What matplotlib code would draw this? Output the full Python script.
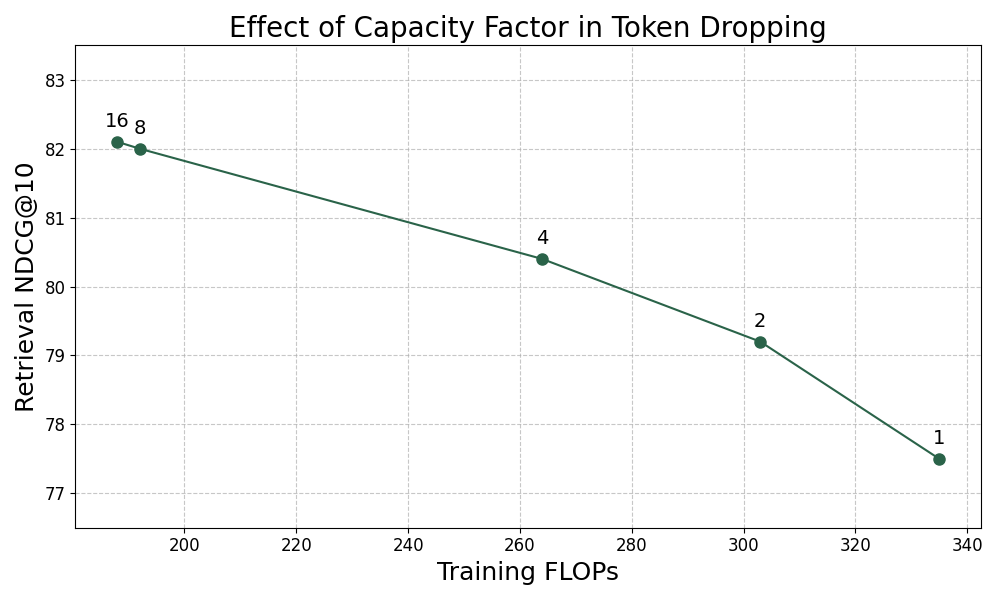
import matplotlib
matplotlib.use("Agg")
import matplotlib.pyplot as plt

flops = [188, 192, 264, 303, 335]
ndcg = [82.1, 82.0, 80.4, 79.2, 77.5]
capacity = ["16", "8", "4", "2", "1"]

COL = "#2a6349"

fig, ax = plt.subplots(figsize=(10, 6), dpi=100)
ax.plot(flops, ndcg, color=COL, lw=1.5, marker="o", markersize=8)
for x, y, lab in zip(flops, ndcg, capacity):
    ax.annotate(lab, (x, y), xytext=(0, 8), textcoords="offset points",
                ha="center", va="bottom", fontsize=14)

ax.set_xlim(180.5, 342.5)
ax.set_ylim(76.5, 83.5)
ax.set_title("Effect of Capacity Factor in Token Dropping", fontsize=20)
ax.set_xlabel("Training FLOPs", fontsize=18)
ax.set_ylabel("Retrieval NDCG@10", fontsize=18)
ax.tick_params(labelsize=12)
ax.grid(True, linestyle="--", alpha=0.7)

plt.tight_layout()
plt.savefig("out.png")
